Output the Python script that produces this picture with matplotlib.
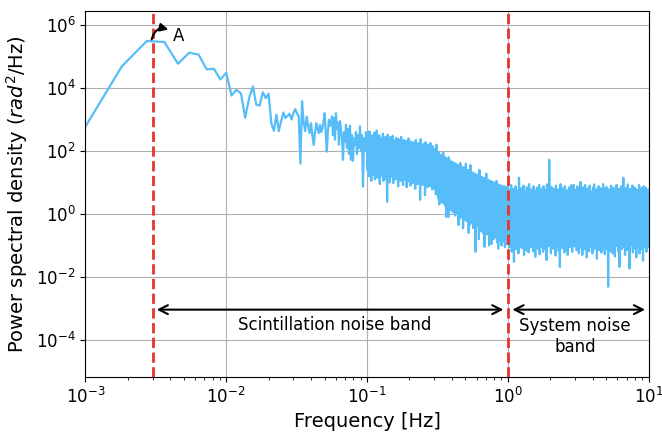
import numpy as np
import matplotlib
matplotlib.use("Agg")
import matplotlib.pyplot as plt
from matplotlib.ticker import NullLocator

# ---------------- data (log10 of PSD, rad^2/Hz) ----------------
df = 0.00091  # frequency resolution [Hz]

# individual low-frequency bins k = 1..60 (f = k * df)
low_log10 = [2.47, 4.69, 5.49, 5.46, 4.77, 5.12, 5.06, 4.59, 4.61, 4.27,
             4.48, 3.76, 3.94, 3.83, 3.06, 3.68, 4.05, 3.47, 3.44, 3.86,
             3.68, 3.82, 2.88, 2.64, 3.15, 2.63, 2.95, 3.22, 3.05, 3.12,
             3.18, 3.00, 3.20, 3.33, 3.20, 3.09, 1.60, 3.58, 2.90, 2.63,
             3.09, 2.80, 2.57, 2.88, 2.50, 2.19, 2.60, 2.88, 2.70, 2.57,
             2.83, 2.60, 2.72, 2.90, 3.20, 2.60, 1.98, 2.60, 2.99, 2.80]

# dense part: successive (high, low) excursions of the noise band
seg_edges = [0.0555, 0.1, 0.3, 1.0, 3.0, 10.0]
seg_a = [(2.9, 3.1), (2.5, 3.05), (2.36, 3.2), (2.7, 2.9), (2.2, 2.95),
         (2.67, 2.4), (1.72, 2.6), (2.3, 2.83), (2.1, 2.7), (1.9, 2.8),
         (1.72, 2.5), (1.69, 2.4), (2.2, 2.6), (1.9, 2.5), (2.1, 2.78),
         (2.0, 2.5), (0.87, 2.4), (2.0, 2.6)]
seg_b = [(2.55, 1.40), (2.38, 1.20), (2.62, 1.45), (2.45, 1.05), (2.50, 1.35),
         (2.30, 1.25), (2.58, 1.10), (2.42, 1.42), (2.65, 1.15), (2.35, 1.30),
         (2.50, 0.95), (2.40, 1.35), (2.28, 1.20), (2.55, 1.05), (2.38, 1.38),
         (2.45, 1.12), (2.32, 0.39), (2.52, 1.28), (2.36, 1.00), (2.44, 1.30),
         (2.25, 1.18), (2.48, 0.98), (2.35, 1.30), (2.20, 1.10), (2.42, 1.25),
         (2.30, 0.87), (2.38, 1.22), (2.18, 1.05), (2.45, 1.20), (2.28, 0.92),
         (2.35, 1.18), (2.15, 1.08), (2.32, 0.85), (2.22, 1.20), (2.40, 1.02),
         (2.18, 0.90), (2.30, 1.15), (2.12, 0.98), (2.28, 1.10), (2.20, 0.80),
         (2.35, 1.08), (2.10, 0.95), (2.25, 1.05), (2.15, 0.45), (2.38, 1.00),
         (2.08, 0.92), (2.22, 1.05), (2.15, 0.60), (2.28, 0.98), (2.05, 0.85),
         (2.20, 1.00), (2.10, 0.88), (2.25, 0.95), (2.02, 0.78), (2.15, 0.92)]
seg_c = [(2.05, 0.80), (1.90, 0.62), (2.20, 0.75), (1.82, 0.50), (1.95, 0.30),
         (1.78, 0.40), (1.88, 0.60), (1.72, 0.35), (1.95, 0.55), (1.70, 0.28),
         (1.80, -0.09), (1.62, 0.40), (1.75, -0.10), (1.80, 0.35), (1.70, 0.12),
         (1.55, 0.30), (1.66, 0.05), (1.50, 0.25), (1.62, -0.05), (1.30, 0.18),
         (1.58, 0.00), (1.42, -0.35), (1.55, -0.15), (1.62, 0.08), (1.50, -0.10),
         (1.35, -0.45), (1.48, 0.02), (1.30, -0.20), (1.60, -0.08), (1.28, -0.25),
         (1.40, -0.60), (1.22, -0.35), (1.55, -0.15), (1.20, -0.30), (1.32, -0.45),
         (1.15, -0.22), (1.28, -1.20), (0.98, -0.38), (1.25, -0.28), (1.08, -0.80),
         (1.40, -0.35), (1.05, -0.55), (1.18, -0.40), (1.02, -0.62), (1.15, -1.04),
         (0.98, -0.45), (1.28, -0.65), (0.95, -0.50), (1.08, -1.00), (0.92, -0.58),
         (1.05, -0.95), (0.75, -0.55), (1.02, -0.80), (0.85, -0.62), (0.98, -0.75),
         (1.05, -0.90), (0.95, -1.10), (0.80, -0.85), (0.92, -0.72), (0.65, -1.00),
         (0.90, -0.75), (0.75, -0.88), (0.88, -1.05), (0.72, -0.95), (0.85, -0.78)]
seg_d = [(0.85, -0.80), (0.62, -1.05), (0.78, -0.88), (0.92, -1.20), (0.58, -0.92),
         (0.80, -1.52), (0.68, -0.85), (0.88, -1.12), (0.60, -0.95), (0.75, -1.25),
         (1.15, -0.82), (0.65, -1.05), (0.82, -1.08), (0.58, -0.90), (0.90, -1.30),
         (0.70, -0.85), (0.62, -1.15), (0.85, -0.95), (0.72, -1.22), (0.95, -0.88),
         (0.60, -1.05), (0.78, -0.82), (0.66, -1.18), (0.88, -0.95), (0.74, -1.36),
         (0.56, -0.88), (0.84, -1.10), (0.68, -0.92), (0.92, -1.28), (0.62, -0.85),
         (0.80, -1.05), (0.70, -1.20), (0.88, -0.90), (0.60, -1.12), (0.76, -1.46),
         (0.94, -0.88), (0.64, -1.02), (1.72, -0.92), (0.70, -1.25), (0.86, -0.85),
         (0.58, -1.10), (0.80, -0.95), (0.68, -1.32), (0.90, -0.88), (0.62, -1.05),
         (0.78, -1.18), (0.72, -1.68), (0.95, -0.90), (0.60, -1.08), (0.82, -0.86),
         (0.70, -1.22), (0.88, -0.95), (0.62, -1.12), (0.76, -1.30), (0.58, -0.88),
         (0.85, -1.05), (0.68, -0.92), (0.92, -1.20), (0.64, -0.85), (0.92, -1.02)]
seg_e = [(0.78, -0.92), (0.60, -1.15), (0.88, -0.85), (0.66, -1.25), (0.82, -0.95),
         (1.02, -1.08), (0.62, -1.30), (0.85, -0.88), (0.70, -1.12), (0.92, -0.90),
         (0.58, -1.38), (0.80, -0.95), (0.66, -1.18), (0.90, -0.86), (0.72, -1.05),
         (0.60, -1.25), (0.84, -0.92), (0.94, -1.10), (0.62, -0.98), (0.78, -1.42),
         (0.68, -0.90), (0.88, -1.15), (0.60, -0.85), (0.82, -1.22), (0.72, -0.95),
         (0.95, -1.08), (0.58, -1.28), (0.80, -0.90), (0.86, -1.12), (0.66, -2.31),
         (0.78, -0.92), (0.62, -1.18), (0.90, -0.86), (0.70, -1.25), (0.84, -0.95),
         (0.58, -1.35), (0.76, -1.02), (0.92, -0.88), (0.64, -1.20), (0.80, -1.68),
         (0.70, -0.90), (0.88, -1.12), (0.60, -0.95), (1.15, -1.05), (0.66, -1.30),
         (0.82, -0.88), (0.72, -1.15), (0.94, -0.92), (0.62, -1.73), (0.80, -1.00),
         (0.68, -0.88), (0.90, -1.22), (0.58, -0.95), (0.84, -1.10), (0.72, -1.38),
         (0.78, -0.90), (0.62, -1.05), (0.92, -1.25), (0.70, -0.92), (0.82, -1.12),
         (0.60, -1.48), (0.88, -0.95), (0.70, -1.05), (0.84, -1.20), (0.64, -0.92),
         (0.78, -1.05)]

band_limits = [0.003, 1.0]  # red dashed boundaries [Hz]
xlim = (1e-3, 10)
ylim = (10 ** -5.175, 10 ** 6.444)
yticks = [1e-4, 1e-2, 1e0, 1e2, 1e4, 1e6]

# ---------------- assemble ----------------
segs = [seg_a, seg_b, seg_c, seg_d, seg_e]
freqs = [np.arange(1, len(low_log10) + 1) * df]
vals = [np.array(low_log10)]
for i, s in enumerate(segs):
    v = np.array(s).ravel()
    last = i == len(segs) - 1
    freqs.append(np.geomspace(seg_edges[i], seg_edges[i + 1], len(v), endpoint=last))
    vals.append(v)
f = np.concatenate(freqs)
psd = 10.0 ** np.concatenate(vals)

# ---------------- plot ----------------
fig = plt.figure(figsize=(6.62, 4.33), dpi=100)
ax = fig.add_axes([0.1289, 0.1293, 0.8509, 0.8453])

ax.loglog(f, psd, color="#56bdf9", lw=1.6, zorder=2)
for b in band_limits:
    ax.axvline(b, color="#e8332a", ls="--", lw=2, zorder=3)

ax.set_xlim(*xlim)
ax.set_ylim(*ylim)
ax.set_yticks(yticks)
ax.yaxis.set_minor_locator(NullLocator())
ax.grid(True, which="major", color="#b0b0b0", lw=0.8, zorder=0)
ax.set_axisbelow(True)
ax.tick_params(labelsize=12)

ax.set_xlabel("Frequency [Hz]", fontsize=14)
ax.set_ylabel("Power spectral density ($rad^2$/Hz)", fontsize=14)

# band arrows
ax.annotate("", xy=(0.931, 9.2e-4), xytext=(0.00321, 9.2e-4),
            arrowprops=dict(arrowstyle="<->", color="black", lw=1.5,
                            mutation_scale=16, shrinkA=0, shrinkB=0))
ax.annotate("", xy=(9.44, 9.2e-4), xytext=(1.078, 9.2e-4),
            arrowprops=dict(arrowstyle="<->", color="black", lw=1.5,
                            mutation_scale=16, shrinkA=0, shrinkB=0))
ax.text(0.0593, 2.9e-4, "Scintillation noise band", ha="center", va="center", fontsize=12)
ax.text(3.0, 1.3e-4, "System noise\nband", ha="center", va="center",
        multialignment="center", fontsize=12)

# marker A
ax.annotate("", xy=(0.00389, 7.2e5), xytext=(0.00296, 3.47e5),
            arrowprops=dict(arrowstyle="-|>", color="black", lw=1.5,
                            mutation_scale=12, shrinkA=0, shrinkB=0,
                            connectionstyle="arc3,rad=-0.5"))
ax.text(0.004176, 3.07e5, "A", ha="left", va="baseline", fontsize=12)

fig.savefig("out.png", dpi=100)
